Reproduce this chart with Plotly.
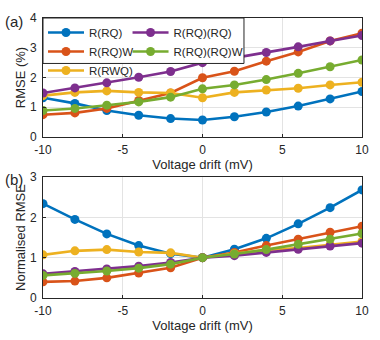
import plotly.graph_objects as go
from plotly.subplots import make_subplots

drift = [-10, -8, -6, -4, -2, 0, 2, 4, 6, 8, 10]
x_ticks = [-10, -5, 0, 5, 10]
x_tick_labels = ["-10", "-5", "0", "5", "10"]

names = ["R(RQ)", "R(RQ)W", "R(RWQ)", "R(RQ)(RQ)", "R(RQ)(RQ)W"]
colors = ["#0072BD", "#D95319", "#EDB120", "#7E2F8E", "#77AC30"]

# RMSE (%) against voltage drift
rmse_rq = [1.32, 1.13, 0.89, 0.73, 0.62, 0.57, 0.68, 0.84, 1.04, 1.28, 1.53]
rmse_rqw = [0.75, 0.81, 0.96, 1.23, 1.48, 1.99, 2.21, 2.55, 2.86, 3.23, 3.49]
rmse_rwq = [1.39, 1.50, 1.55, 1.50, 1.48, 1.32, 1.50, 1.58, 1.64, 1.75, 1.84]
rmse_rqrq = [1.48, 1.65, 1.82, 2.01, 2.20, 2.50, 2.66, 2.84, 3.03, 3.23, 3.41]
rmse_rqrqw = [0.89, 0.96, 1.07, 1.18, 1.34, 1.62, 1.75, 1.93, 2.14, 2.36, 2.59]

# RMSE normalised to the zero-drift value
norm_rq = [2.34, 1.95, 1.59, 1.30, 1.10, 1.00, 1.21, 1.48, 1.84, 2.24, 2.68]
norm_rqw = [0.40, 0.42, 0.50, 0.62, 0.75, 1.00, 1.13, 1.30, 1.46, 1.63, 1.78]
norm_rwq = [1.07, 1.17, 1.20, 1.14, 1.12, 1.00, 1.10, 1.19, 1.24, 1.32, 1.40]
norm_rqrq = [0.60, 0.66, 0.72, 0.79, 0.88, 1.00, 1.05, 1.13, 1.21, 1.29, 1.36]
norm_rqrqw = [0.56, 0.61, 0.67, 0.74, 0.84, 1.00, 1.09, 1.20, 1.33, 1.46, 1.60]

top_series = [rmse_rq, rmse_rqw, rmse_rwq, rmse_rqrq, rmse_rqrqw]
bottom_series = [norm_rq, norm_rqw, norm_rwq, norm_rqrq, norm_rqrqw]
legend_ids = ["legend", "legend", "legend", "legend2", "legend2"]

fig = make_subplots(rows=2, cols=1)

for i, name in enumerate(names):
    fig.add_trace(go.Scatter(
        x=drift, y=top_series[i], name=name, mode="lines+markers",
        line=dict(color=colors[i], width=2.6),
        marker=dict(color=colors[i], size=9),
        legend=legend_ids[i], showlegend=True,
    ), row=1, col=1)
for i, name in enumerate(names):
    fig.add_trace(go.Scatter(
        x=drift, y=bottom_series[i], name=name, mode="lines+markers",
        line=dict(color=colors[i], width=2.6),
        marker=dict(color=colors[i], size=9),
        showlegend=False,
    ), row=2, col=1)

FONT = "Liberation Sans, Arial, sans-serif"
axis_font = dict(family=FONT, size=12, color="#262626")
title_font = dict(family=FONT, size=13, color="#262626")

common_x = dict(range=[-10, 10], tickvals=x_ticks, ticktext=x_tick_labels, showgrid=True,
                gridcolor="#e3e3e3", gridwidth=1, zeroline=False, showline=True,
                linecolor="#262626", linewidth=1, mirror=True, ticks="inside",
                ticklen=3, tickcolor="#262626", tickfont=axis_font,
                ticklabelstandoff=2)
common_y = dict(showgrid=True, gridcolor="#e3e3e3", gridwidth=1, zeroline=False,
                showline=True, linecolor="#262626", linewidth=1, mirror=True,
                ticks="inside", ticklen=3, tickcolor="#262626", tickfont=axis_font,
                ticklabelstandoff=3)

fig.update_xaxes(**common_x)
fig.update_yaxes(**common_y)
fig.update_xaxes(title=dict(text="Voltage drift (mV)", font=title_font, standoff=1), row=1, col=1)
fig.update_xaxes(title=dict(text="Voltage drift (mV)", font=title_font, standoff=1), row=2, col=1)
fig.update_yaxes(range=[0, 4], tickvals=[0, 1, 2, 3, 4],
                 title=dict(text="RMSE (%)", font=title_font, standoff=1), row=1, col=1)
fig.update_yaxes(range=[0, 3], tickvals=[0, 1, 2, 3],
                 title=dict(text="Normalised RMSE", font=title_font, standoff=1), row=2, col=1)

fig.update_layout(
    xaxis=dict(domain=[0, 1]), xaxis2=dict(domain=[0, 1]),
    yaxis=dict(domain=[0.575, 1.0]), yaxis2=dict(domain=[0.0, 0.432]),
)

legend_font = dict(family=FONT, size=11.5, color="#262626")
fig.update_layout(
    legend=dict(x=0.0, y=1.0, xanchor="left", yanchor="top", xref="paper", yref="paper",
                bgcolor="rgba(0,0,0,0)", borderwidth=0, font=legend_font,
                itemwidth=36, tracegroupgap=0, traceorder="normal"),
    legend2=dict(x=0.265, y=1.0, xanchor="left", yanchor="top", xref="paper", yref="paper",
                 bgcolor="rgba(0,0,0,0)", borderwidth=0, font=legend_font,
                 itemwidth=36, tracegroupgap=0, traceorder="normal"),
)

# white legend box drawn over the lines of the upper panel
fig.add_shape(type="rect", xref="x domain", yref="y domain",
              x0=0.0, x1=0.63, y0=0.618, y1=1.0,
              fillcolor="white", line=dict(color="#262626", width=1), layer="above")

fig.add_annotation(text="(a)", xref="paper", yref="paper", x=-0.125, y=1.0,
                   xanchor="left", yanchor="middle", yshift=-3, showarrow=False,
                   font=dict(family=FONT, size=15, color="#262626"))
fig.add_annotation(text="(b)", xref="paper", yref="paper", x=-0.125, y=0.432,
                   xanchor="left", yanchor="middle", yshift=-2, showarrow=False,
                   font=dict(family=FONT, size=15, color="#262626"))

fig.update_layout(
    width=380, height=340,
    margin=dict(l=43, r=18, t=11, b=35),
    paper_bgcolor="white", plot_bgcolor="white",
)

fig.write_html("out.html")
